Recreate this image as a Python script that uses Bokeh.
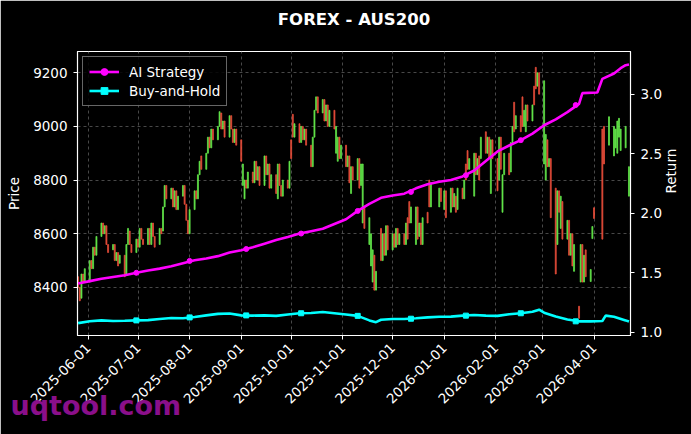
import datetime as dt
from math import pi
from bokeh.plotting import figure
from bokeh.models import (Range1d, LinearAxis, FixedTicker, DatetimeTickFormatter, Title,
                          Legend, LegendItem, ColumnDataSource, PrintfTickFormatter)
from bokeh.embed import file_html
from bokeh.resources import INLINE

# ---------------- data ----------------
week_starts = [
    "2025-05-26", "2025-06-02", "2025-06-09", "2025-06-16", "2025-06-23", "2025-06-30",
    "2025-07-07", "2025-07-14", "2025-07-21", "2025-07-28", "2025-08-04", "2025-08-11",
    "2025-08-18", "2025-08-25", "2025-09-01", "2025-09-08", "2025-09-15", "2025-09-22",
    "2025-09-29", "2025-10-06", "2025-10-13", "2025-10-20", "2025-10-27", "2025-11-03",
    "2025-11-10", "2025-11-17", "2025-11-24", "2025-12-01", "2025-12-08", "2025-12-15",
    "2025-12-22", "2025-12-29", "2026-01-05", "2026-01-12", "2026-01-19", "2026-01-26",
    "2026-02-02", "2026-02-09", "2026-02-16", "2026-02-23", "2026-03-02", "2026-03-09",
    "2026-03-16", "2026-03-23", "2026-03-30", "2026-04-06", "2026-04-13", "2026-04-20",
]

open_px = [
    [8440, 8400, 8360, 8450, 8420], [8420, 8500, 8470, 8550, 8520], [8590, 8640, 8600, 8630, 8560],
    [8540, 8560, 8500, 8530, 8490], [8520, 8450, 8560, 8610, 8560], [8530, 8580, 8550, 8620, 8580],
    [8560, 8620, 8560, 8640, 8590], [8560, 8620, 8610, 8700, 8780], [8730, 8770, 8700, 8760, 8690],
    [8740, 8780, 8710, 8650, 8600], [8690, 8760, 8730, 8820, 8890], [8840, 8900, 8960, 8920, 8990],
    [8950, 9000, 9050, 8990, 9020], [8960, 9040, 8990, 8940, 8990], [8950, 8780, 8730, 8800, 8770],
    [8830, 8790, 8870, 8800, 8850], [8780, 8890, 8820, 8860, 8770], [8820, 8730, 8860, 8780, 8740],
    [8800, 8770, 8950, 9045, 8960], [9010, 8940, 9000, 8950, 8990], [8930, 8850, 8960, 9060, 9110],
    [9050, 9100, 9020, 9080, 9000], [9060, 8900, 8870, 8960, 8880], [8930, 8850, 8890, 8750, 8850],
    [8800, 8880, 8780, 8640, 8700], [8560, 8480, 8420, 8520, 8390], [8620, 8500, 8600, 8520, 8630],
    [8540, 8600, 8550, 8620, 8560], [8600, 8560, 8660, 8720, 8640], [8560, 8700, 8590, 8640, 8560],
    [8680, 8800, 8700, None, None], [8700, 8770, None, 8690, 8760], [8680, 8770, 8700, 8740, 8690],
    [8770, 8730, 8860, 8910, 8840], [8740, 8900, 8820, 8890, 8880], [8980, 8900, 8960, 8750, 8950],
    [8880, 8800, 8960, 8680, 8820], [8900, 8830, 8940, 9090, 8990], [9040, 9110, 9000, 8980, 9080],
    [9020, 9150, 9220, 9150, 9200], [8860, 8800, 8950, 8850, 8880], [8770, 8560, 8760, 8620, 8720],
    [8580, 8650, 8520, 8600, 8460], [8330, 8420, 8560, 8420, 8540], [8422, 8582, 8697, None, None],
    [8990, 9000, None, None, 8930], [8890, 8920, 8900, 8960, 8910], [8920, None, 8740],
]

close_px = [
    [8400, 8350, 8450, 8420, 8470], [8500, 8470, 8550, 8520, 8590], [8640, 8600, 8630, 8560, 8530],
    [8560, 8500, 8530, 8480, 8520], [8440, 8560, 8620, 8560, 8530], [8580, 8550, 8620, 8580, 8560],
    [8620, 8560, 8640, 8590, 8550], [8620, 8600, 8700, 8780, 8730], [8770, 8700, 8760, 8690, 8740],
    [8780, 8710, 8650, 8600, 8690], [8760, 8730, 8820, 8870, 8840], [8900, 8960, 8920, 8990, 8950],
    [9000, 9055, 8990, 9020, 8960], [9040, 8990, 8940, 8990, 8930], [8870, 8860, 8800, 8770, 8830],
    [8790, 8870, 8800, 8850, 8780], [8890, 8820, 8860, 8770, 8820], [8750, 8860, 8780, 8740, 8800],
    [8770, 8870, 8880, 8960, 9010], [8940, 9000, 8950, 8990, 8930], [8850, 8960, 9060, 9110, 9050],
    [9100, 9020, 9080, 9000, 9060], [8990, 9000, 8960, 8880, 8930], [8850, 8890, 8790, 8850, 8800],
    [8880, 8770, 8860, 8860, 8620], [8660, 8600, 8540, 8390, 8460], [8500, 8600, 8520, 8630, 8540],
    [8600, 8550, 8620, 8560, 8600], [8560, 8640, 8580, 8640, 8700], [8700, 8580, 8640, 8560, 8660],
    [8640, 8700, 8790, None, None], [8770, 8720, None, 8760, 8660], [8770, 8700, 8750, 8680, 8770],
    [8730, 8800, 8800, 8840, 8880], [8900, 8820, 8880, 8800, 8960], [8900, 8960, 8880, 8950, 8880],
    [8760, 8960, 8840, 8820, 8900], [8820, 8940, 9000, 8980, 9040], [8980, 9000, 9060, 9080, 9020],
    [9080, 9080, 9140, 9200, 9120], [9170, 8970, 8850, 8880, 8660], [8450, 8760, 8680, 8740, 8580],
    [8650, 8520, 8600, 8480, 8560], [8285, 8560, 8420, 8520, 8440], [8467, 8627, 8657, None, None],
    [8580, 8860, None, None, 9036], [9000, 8990, 9020, 9030, 8990], [9000, None, 8850],
]

ai_dates = [
    "2025-05-26", "2025-06-02", "2025-06-09", "2025-06-16", "2025-06-23", "2025-06-30",
    "2025-07-07", "2025-07-14", "2025-07-21", "2025-07-28", "2025-08-04", "2025-08-11",
    "2025-08-18", "2025-08-25", "2025-09-01", "2025-09-08", "2025-09-15", "2025-09-22",
    "2025-09-29", "2025-10-06", "2025-10-13", "2025-10-20", "2025-10-27", "2025-11-03",
    "2025-11-10", "2025-11-17", "2025-11-24", "2025-12-01", "2025-12-08", "2025-12-15",
    "2025-12-22", "2025-12-29", "2026-01-05", "2026-01-12", "2026-01-19", "2026-01-26",
    "2026-02-02", "2026-02-09", "2026-02-16", "2026-02-23", "2026-03-02", "2026-03-09",
    "2026-03-16", "2026-03-23", "2026-03-25", "2026-04-03", "2026-04-06", "2026-04-13",
    "2026-04-17", "2026-04-20", "2026-04-22",
]
ai_vals = [
    1.41, 1.43, 1.45, 1.465, 1.48, 1.50,
    1.52, 1.535, 1.555, 1.58, 1.605, 1.62,
    1.64, 1.67, 1.69, 1.715, 1.745, 1.775,
    1.80, 1.83, 1.85, 1.87, 1.91, 1.95,
    2.02, 2.08, 2.13, 2.15, 2.165, 2.21,
    2.245, 2.265, 2.28, 2.31, 2.36, 2.44,
    2.52, 2.57, 2.615, 2.67, 2.74, 2.79,
    2.85, 2.92, 3.01, 3.015, 3.13, 3.175,
    3.22, 3.245, 3.25,
]

bh_dates = [
    "2025-05-26", "2025-06-02", "2025-06-09", "2025-06-16", "2025-06-23", "2025-06-30",
    "2025-07-07", "2025-07-14", "2025-07-21", "2025-07-28", "2025-08-04", "2025-08-11",
    "2025-08-18", "2025-08-25", "2025-09-01", "2025-09-08", "2025-09-15", "2025-09-22",
    "2025-09-29", "2025-10-06", "2025-10-13", "2025-10-20", "2025-10-27", "2025-11-03",
    "2025-11-10", "2025-11-17", "2025-11-21", "2025-11-24", "2025-12-01", "2025-12-08",
    "2025-12-15", "2025-12-22", "2025-12-29", "2026-01-05", "2026-01-12", "2026-01-19",
    "2026-01-26", "2026-02-02", "2026-02-09", "2026-02-16", "2026-02-23", "2026-02-27",
    "2026-03-02", "2026-03-09", "2026-03-16", "2026-03-23", "2026-03-30", "2026-04-06",
    "2026-04-08", "2026-04-13", "2026-04-20", "2026-04-22",
]
bh_vals = [
    1.077, 1.093, 1.100, 1.095, 1.097, 1.100,
    1.102, 1.112, 1.120, 1.118, 1.128, 1.142,
    1.155, 1.158, 1.142, 1.140, 1.142, 1.138,
    1.150, 1.160, 1.162, 1.170, 1.160, 1.150,
    1.138, 1.100, 1.085, 1.105, 1.112, 1.112,
    1.118, 1.125, 1.130, 1.132, 1.140, 1.145,
    1.140, 1.138, 1.152, 1.160, 1.172, 1.190,
    1.165, 1.132, 1.108, 1.092, 1.092, 1.095,
    1.140, 1.130, 1.100, 1.090,
]

marker_dates = ["2025-06-30", "2025-08-01", "2025-09-04", "2025-10-07", "2025-11-10",
                "2025-12-12", "2026-01-14", "2026-02-16", "2026-03-21"]
ai_marker_vals = [1.50, 1.60, 1.70, 1.83, 2.02, 2.18, 2.32, 2.615, 2.91]
bh_marker_vals = [1.100, 1.125, 1.142, 1.160, 1.138, 1.114, 1.140, 1.160, 1.092]

x_tick_labels = ["2025-06-01", "2025-07-01", "2025-08-01", "2025-09-01", "2025-10-01",
                 "2025-11-01", "2025-12-01", "2026-01-01", "2026-02-01", "2026-03-01",
                 "2026-04-01"]
price_ticks = [8400, 8600, 8800, 9000, 9200]
return_ticks = [1.0, 1.5, 2.0, 2.5, 3.0]

# ---------------- helpers ----------------
FONT = "DejaVu Sans"
UP = "#66f04d"
DOWN = "#f0503c"
EPOCH = dt.datetime(1970, 1, 1)


def d(s):
    return dt.datetime.strptime(s, "%Y-%m-%d")


def ms(t):
    return (t - EPOCH).total_seconds() * 1000.0


cx, ctop, cbot, ccol = [], [], [], []
for ws, ow, cw in zip(week_starts, open_px, close_px):
    base = d(ws)
    for i, (o, c) in enumerate(zip(ow, cw)):
        if o is None or c is None:
            continue
        cx.append(base + dt.timedelta(days=i))
        ctop.append(max(o, c))
        cbot.append(min(o, c))
        ccol.append(UP if c >= o else DOWN)

candles = ColumnDataSource(dict(x=cx, top=ctop, bottom=cbot, color=ccol))

p = figure(width=691, height=434, x_axis_type="datetime",
           output_backend="svg", toolbar_location=None,
           x_range=Range1d(dt.datetime(2025, 5, 25, 15), dt.datetime(2026, 4, 22, 22)),
           y_range=Range1d(8221, 9279),
           background_fill_color="black", border_fill_color="black",
           outline_line_color="white", outline_line_width=1.2,
           min_border_left=77, min_border_right=61, min_border_top=51, min_border_bottom=99)

p.title.text = "FOREX - AUS200"
p.title.align = "center"
p.title.vertical_align = "top"
p.title.text_color = "white"
p.title.text_font = FONT
p.title.text_font_size = "16.5px"
p.title.text_font_style = "bold"
p.title.standoff = 15

# blank gap between the title and the plot frame
gap = Title(text=" ", text_font_size="2px", standoff=9)
p.add_layout(gap, "above")

p.extra_y_ranges = {"ret": Range1d(0.973, 3.36)}

p.vbar(x="x", width=0.6 * 86400000, top="top", bottom="bottom",
       fill_color="color", line_color="color", line_width=0.8,
       fill_alpha=0.9, line_alpha=0.9, source=candles)

ai_line = p.line([d(s) for s in ai_dates], ai_vals, y_range_name="ret",
                 line_color="#ff00ff", line_width=2.6)
ai_pts = p.scatter([d(s) for s in marker_dates], ai_marker_vals, y_range_name="ret",
                   marker="circle", size=5, fill_color="#ff00ff", line_color="#ff00ff")
bh_line = p.line([d(s) for s in bh_dates], bh_vals, y_range_name="ret",
                 line_color="#00ffff", line_width=2.6)
bh_pts = p.scatter([d(s) for s in marker_dates], bh_marker_vals, y_range_name="ret",
                   marker="square", size=5, fill_color="#00ffff", line_color="#00ffff")

# axes
p.xaxis.ticker = FixedTicker(ticks=[ms(d(s)) for s in x_tick_labels])
p.xaxis.formatter = DatetimeTickFormatter(
    milliseconds="%Y-%m-%d", seconds="%Y-%m-%d", minsec="%Y-%m-%d", minutes="%Y-%m-%d",
    hourmin="%Y-%m-%d", hours="%Y-%m-%d", days="%Y-%m-%d", months="%Y-%m-%d", years="%Y-%m-%d",
    strip_leading_zeros=False)
p.xaxis.major_label_orientation = pi / 4
p.yaxis.ticker = FixedTicker(ticks=price_ticks)
p.yaxis.axis_label = "Price"

ret_axis = LinearAxis(y_range_name="ret", ticker=FixedTicker(ticks=return_ticks),
                      formatter=PrintfTickFormatter(format="%.1f"), axis_label="Return")
p.add_layout(ret_axis, "right")
if "axis_label_orientation" in ret_axis.properties():
    ret_axis.axis_label_orientation = pi / 2

for ax in [p.xaxis[0], p.yaxis[0], ret_axis]:
    ax.axis_line_color = "white"
    ax.major_tick_line_color = "white"
    ax.major_tick_out = 4
    ax.major_tick_in = 0
    ax.minor_tick_line_color = None
    ax.major_label_text_color = "white"
    ax.major_label_text_font = FONT
    ax.major_label_text_font_size = "13.5px"
    ax.major_label_standoff = 6
    ax.axis_label_text_color = "white"
    ax.axis_label_text_font = FONT
    ax.axis_label_text_font_size = "13.5px"
    ax.axis_label_text_font_style = "normal"
p.yaxis[0].axis_label_standoff = 8
ret_axis.axis_label_standoff = 6

# grid
for g in [p.xgrid[0], p.ygrid[0]]:
    g.grid_line_color = "#5a5a5a"
    g.grid_line_dash = "3 3"
    g.grid_line_width = 0.8

# legend
legend = Legend(items=[LegendItem(label="AI Strategy", renderers=[ai_line, ai_pts]),
                       LegendItem(label="Buy-and-Hold", renderers=[bh_line, bh_pts])],
                location="top_left")
legend.background_fill_color = "black"
legend.background_fill_alpha = 0.85
legend.border_line_color = "#cccccc"
legend.border_line_width = 1
legend.label_text_color = "white"
legend.label_text_font = FONT
legend.label_text_font_size = "13.5px"
legend.margin = 5
legend.padding = 6
legend.spacing = 2
legend.glyph_width = 30
legend.glyph_height = 17
legend.label_height = 17
legend.label_standoff = 10
p.add_layout(legend)

# watermark, placed in the panel below the date axis
mark = Title(text="uqtool.com", align="left", vertical_align="top", text_color="#8a0f8a",
             text_font=FONT, text_font_size="27px", text_font_style="bold", offset=-67)
try:
    mark.standoff = -43
except Exception:
    mark.standoff = 0
p.add_layout(mark, "below")

html = file_html(p, INLINE, title="FOREX - AUS200")
html = html.replace("<body>", '<body style="background-color:#000000;">', 1)
open("out.html", "w").write(html)
